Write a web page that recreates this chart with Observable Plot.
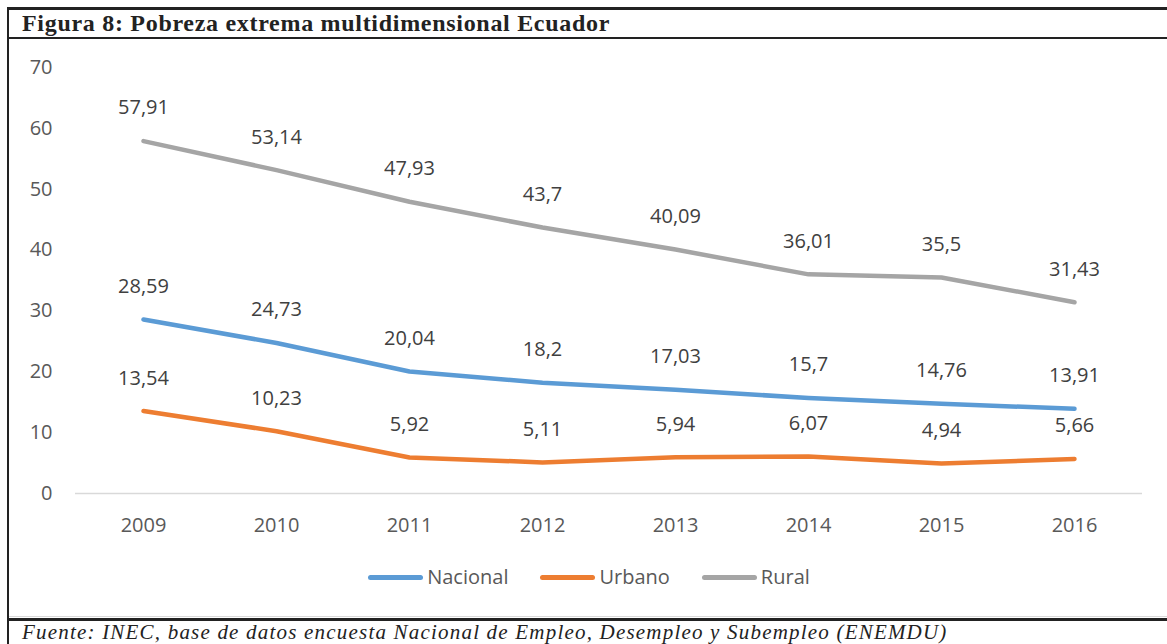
<!DOCTYPE html>
<html><head><meta charset="utf-8">
<script src="https://cdn.jsdelivr.net/npm/d3@7"></script>
<script src="https://cdn.jsdelivr.net/npm/@observablehq/plot@0.6"></script>
<style>
html,body{margin:0;padding:0;background:#fff;width:1167px;height:644px;overflow:hidden;}
#frame{position:absolute;left:7px;top:7px;width:1160px;height:637px;border-left:2px solid #222;}
#title{position:absolute;left:0;top:0;width:1160px;height:27px;border-top:3px solid #222;border-bottom:2px solid #222;
 font-family:"Liberation Serif",serif;font-weight:bold;font-size:24px;letter-spacing:0.7px;color:#222;line-height:27px;padding-left:13px;box-sizing:content-box;white-space:nowrap;}
#chart{position:absolute;left:0;top:31px;width:1160px;height:578px;border-bottom:1px solid #d9d9d9;}
#legend{position:absolute;left:0;top:556px;width:1160px;text-align:center;font-family:"Open Sans",sans-serif;font-size:20px;color:#595959;}
.li{display:inline-block;margin:0 16px;}
.sw{display:inline-block;width:55px;height:5px;border-radius:3px;vertical-align:middle;margin-right:4px;position:relative;top:-1px;}
#caption{position:absolute;left:0;top:611px;width:1160px;border-top:3px solid #222;font-family:"Liberation Serif",serif;font-style:italic;
 font-size:21px;letter-spacing:1.2px;color:#222;padding-left:13px;line-height:22px;white-space:nowrap;}
</style></head>
<body>
<div id="frame">
 <div id="title">Figura 8: Pobreza extrema multidimensional Ecuador</div>
 <div id="chart"></div>
 <div id="legend"></div>
 <div id="caption">Fuente: INEC, base de datos encuesta Nacional de Empleo, Desempleo y Subempleo (ENEMDU)</div>
</div>
<script>
const years = ["2009","2010","2011","2012","2013","2014","2015","2016"];
const nacional = [28.59,24.73,20.04,18.2,17.03,15.7,14.76,13.91];
const urbano = [13.54,10.23,5.92,5.11,5.94,6.07,4.94,5.66];
const rural = [57.91,53.14,47.93,43.7,40.09,36.01,35.5,31.43];
const seriesNames = ["Nacional","Urbano","Rural"];
const seriesColors = ["#5B9BD5","#ED7D31","#A5A5A5"];
const yTicks = [0,10,20,30,40,50,60,70];

const allSeries = [nacional, urbano, rural];
const data = [];
allSeries.forEach((vals, si) => vals.forEach((v, i) => data.push({year: years[i], value: v, series: seriesNames[si]})));
const fmt = v => String(v).replace(".", ",");

const plot = Plot.plot({
  width: 1160, height: 510,
  marginLeft: 66, marginRight: 27, marginTop: 29, marginBottom: 55,
  style: {fontFamily: "'Open Sans', sans-serif", fontSize: "20px", color: "#595959", background: "transparent", overflow: "visible"},
  x: {type: "point", domain: years, padding: 0.5, label: null},
  y: {domain: [0, 70], label: null},
  color: {domain: seriesNames, range: seriesColors},
  marks: [
    Plot.ruleY([0], {stroke: "#d9d9d9", strokeWidth: 1.5}),
    Plot.axisY({ticks: yTicks, tickSize: 0, tickPadding: 23, label: null, fill: "#595959"}),
    Plot.axisX({tickSize: 0, tickPadding: 24, label: null, fill: "#595959"}),
    Plot.line(data, {x: "year", y: "value", z: "series", stroke: "series", strokeWidth: 4.5, strokeLinecap: "round", strokeLinejoin: "round"}),
    Plot.text(data, {x: "year", y: "value", text: d => fmt(d.value), dy: -33, fill: "#404040", fontSize: 20})
  ]
});
document.getElementById("chart").appendChild(plot);

const leg = document.getElementById("legend");
seriesNames.forEach((n, i) => {
  const s = document.createElement("span"); s.className = "li";
  s.innerHTML = `<span class="sw" style="background:${seriesColors[i]}"></span>${n}`;
  leg.appendChild(s);
});
</script>
</body></html>
